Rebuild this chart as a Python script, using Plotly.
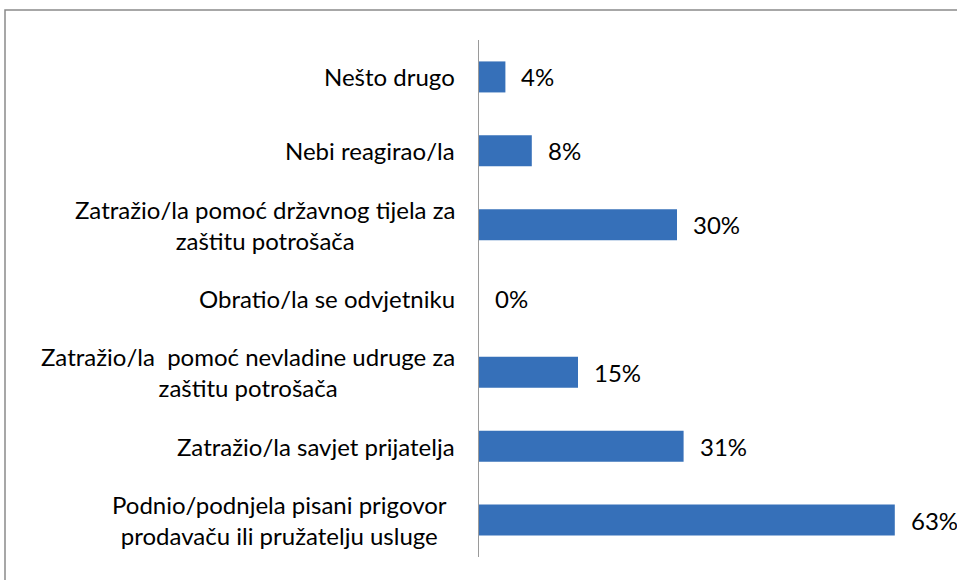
import plotly.graph_objects as go

categories = [
    "Nešto drugo",
    "Nebi reagirao/la",
    "Zatražio/la pomoć državnog tijela za<br>zaštitu potrošača",
    "Obratio/la se odvjetniku",
    "Zatražio/la  pomoć nevladine udruge za<br>zaštitu potrošača",
    "Zatražio/la savjet prijatelja",
    "Podnio/podnjela pisani prigovor<br>prodavaču ili pružatelju usluge",
]
values = [4, 8, 30, 0, 15, 31, 63]
value_labels = ["4%", "8%", "30%", "0%", "15%", "31%", "63%"]

FONT = "Lato"
FS = 24

W, H = 957, 580
L, T = 479, 40
PLOT_R = 941
PLOT_B = 557

fig = go.Figure()
fig.add_trace(go.Bar(
    y=categories, x=values, orientation="h",
    marker=dict(color="#3670b9", line=dict(width=0)),
    width=0.42, hoverinfo="skip",
))

annotations = []
for i, (c, v, t) in enumerate(zip(categories, values, value_labels)):
    xs = -22 if i != 6 else -30
    annotations.append(dict(
        x=0, xref="x", y=c, yref="y", text=c, showarrow=False,
        xanchor="right", yanchor="middle", align="center", xshift=xs,
        font=dict(family=FONT, size=FS, color="#000000"),
    ))
    annotations.append(dict(
        x=v, xref="x", y=c, yref="y", text=t, showarrow=False,
        xanchor="left", yanchor="middle", xshift=14,
        font=dict(family=FONT, size=FS, color="#000000"),
    ))

pw = PLOT_R - L
ph = PLOT_B - T
fig.update_layout(
    width=W, height=H,
    margin=dict(l=L, r=W - PLOT_R, t=T, b=H - PLOT_B, pad=0),
    paper_bgcolor="white", plot_bgcolor="white",
    showlegend=False,
    annotations=annotations,
    xaxis=dict(range=[0, 70], visible=False, fixedrange=True),
    yaxis=dict(autorange="reversed", showticklabels=False, ticks="",
               showline=True, linecolor="#9a9a9a", linewidth=1.5,
               showgrid=False, zeroline=False, fixedrange=True),
    shapes=[dict(type="rect", xref="paper", yref="paper",
                 x0=(5 - L) / pw, x1=1.3, y0=-0.3, y1=(PLOT_B - 10) / ph,
                 line=dict(color="#8a8a8a", width=1.5), layer="below")],
)

fig.write_html(
    "out.html",
    config={"displayModeBar": False, "staticPlot": True},
    post_script="document.body.style.margin='0';document.body.style.overflow='hidden';",
)
